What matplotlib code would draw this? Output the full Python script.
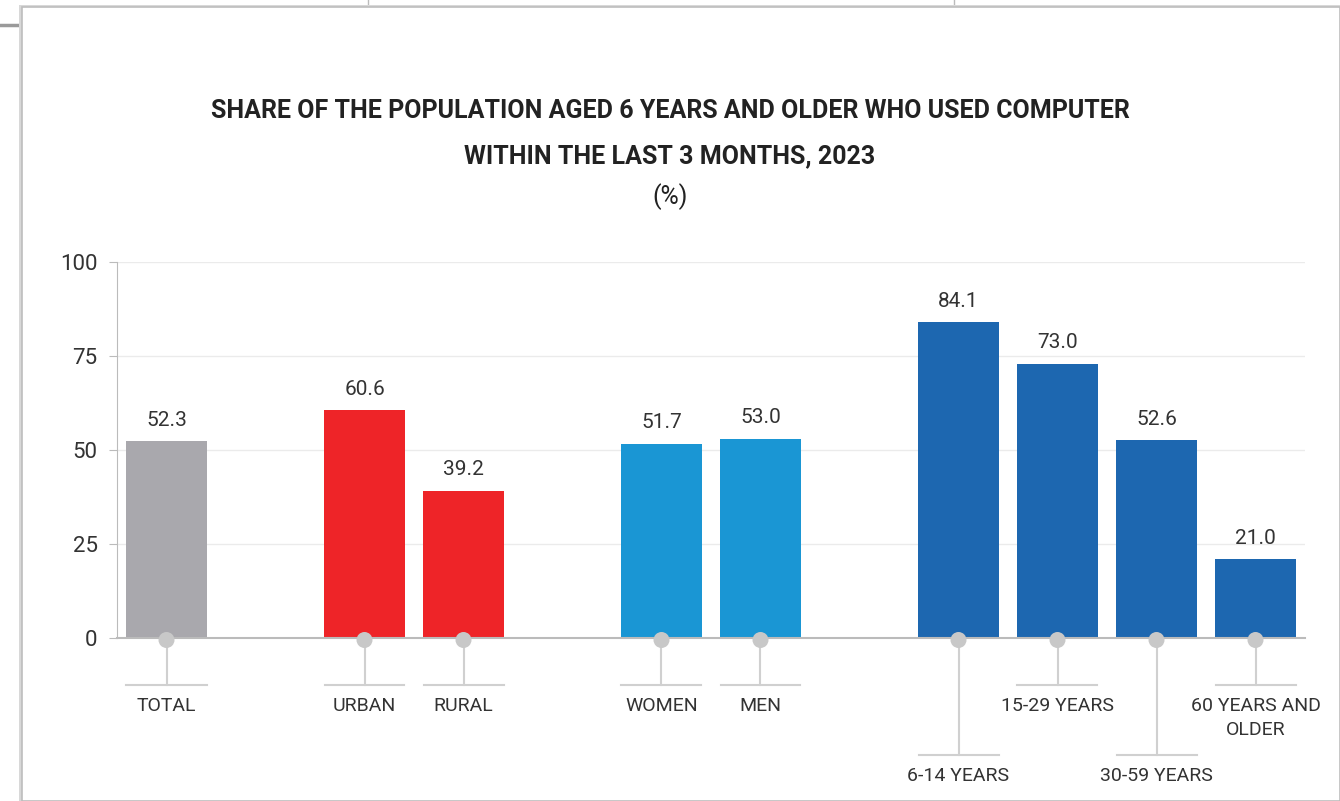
import matplotlib.pyplot as plt
from matplotlib.patches import Rectangle, Circle
from matplotlib.lines import Line2D

categories = ["TOTAL", "URBAN", "RURAL", "WOMEN", "MEN",
              "6-14 YEARS", "15-29 YEARS", "30-59 YEARS", "60 YEARS AND\nOLDER"]
values = [52.3, 60.6, 39.2, 51.7, 53.0, 84.1, 73.0, 52.6, 21.0]
positions = [0, 2, 3, 5, 6, 8, 9, 10, 11]
colors = ["#a9a8ad", "#ee2428", "#ee2428", "#1a96d4", "#1a96d4",
          "#1d67b0", "#1d67b0", "#1d67b0", "#1d67b0"]
label_low = [False, False, False, False, False, True, False, True, False]

plt.rcParams["font.family"] = ["Roboto", "DejaVu Sans"]

W, H = 1340, 801
fig = plt.figure(figsize=(W / 100, H / 100), dpi=100)
fig.patch.set_facecolor("white")


def fx(x):
    return x / W


def fy(y):
    return 1 - y / H


# page behind the card
fig.add_artist(Line2D([fx(0), fx(22)], [fy(25), fy(25)], color="#9a9a9a", lw=2.5, zorder=-3))
fig.add_artist(Line2D([fx(368), fx(368)], [fy(0), fy(7)], color="#bbbbbb", lw=1, zorder=-3))
fig.add_artist(Line2D([fx(954), fx(954)], [fy(0), fy(7)], color="#bbbbbb", lw=1, zorder=-3))
# card shadow + card
fig.add_artist(Rectangle((fx(19), 0), fx(W) - fx(19), fy(5), transform=fig.transFigure,
                         facecolor="#d8d8d8", edgecolor="none", zorder=-2))
fig.add_artist(Rectangle((fx(22), 0), fx(W) - fx(22), fy(7), transform=fig.transFigure,
                         facecolor="white", edgecolor="#bdbdbd", lw=1.2, zorder=-1))

fig.text(0.5, fy(111), "SHARE OF THE POPULATION AGED 6 YEARS AND OLDER WHO USED COMPUTER",
         ha="center", va="center", fontsize=18, fontweight="bold", color="#222222")
fig.text(0.5, fy(156), "WITHIN THE LAST 3 MONTHS, 2023",
         ha="center", va="center", fontsize=18, fontweight="bold", color="#222222")
fig.text(0.5, fy(197), "(%)", ha="center", va="center", fontsize=18, color="#222222")

ax = fig.add_axes([fx(117), fy(638), fx(1305) - fx(117), fy(262) - fy(638)])
ax.set_facecolor("none")
ax.set_xlim(-0.5, 11.5)
ax.set_ylim(0, 100)
ax.bar(positions, values, width=0.81, color=colors, zorder=2)

for p, v in zip(positions, values):
    ax.text(p, v + 3, f"{v:.1f}", ha="center", va="bottom", fontsize=15, color="#333333")

ax.set_yticks([0, 25, 50, 75, 100])
ax.tick_params(axis="y", length=6, color="#bbbbbb", labelsize=16, labelcolor="#333333", pad=8)
ax.set_xticks([])
ax.grid(axis="y", color="#ebebeb", lw=1, zorder=0)
for s in ["top", "right"]:
    ax.spines[s].set_visible(False)
ax.spines["left"].set_color("#bbbbbb")
ax.spines["bottom"].set_color("#bbbbbb")
ax.spines["bottom"].set_linewidth(1.5)

# leader lines and category labels below the axis
for p, cat, low in zip(positions, categories, label_low):
    x = fx(117) + (p + 0.5) / 12 * (fx(1305) - fx(117))
    y_bar = fy(685) if not low else fy(755)
    fig.add_artist(Line2D([x, x], [fy(638), y_bar], color="#d0d0d0", lw=1.5))
    fig.add_artist(Line2D([x - fx(40), x + fx(40)], [y_bar, y_bar], color="#d0d0d0", lw=1.5))
    fig.add_artist(Circle((x * W, fy(640) * H), 8, transform=None,
                          facecolor="#c8c8c8", edgecolor="none", zorder=5))
    fig.text(x, y_bar - 12 / H, cat, ha="center", va="top", fontsize=14,
             color="#333333", linespacing=1.4)

fig.savefig("out.png", dpi=100)
